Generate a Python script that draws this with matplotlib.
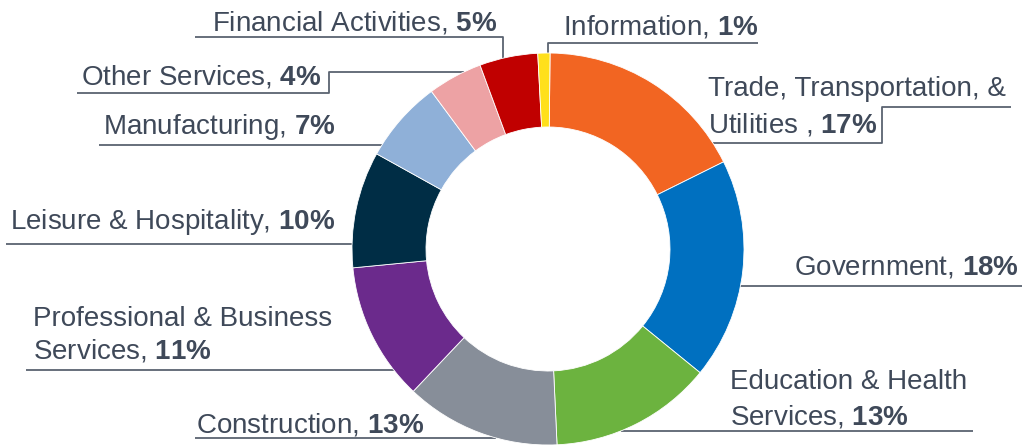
import matplotlib
matplotlib.use("Agg")
import matplotlib.pyplot as plt
import numpy as np

plt.rcParams['font.family'] = ['Liberation Sans', 'DejaVu Sans']
plt.rcParams['mathtext.fontset'] = 'custom'
plt.rcParams['mathtext.rm'] = 'Liberation Sans'
plt.rcParams['mathtext.it'] = 'Liberation Sans:italic'
plt.rcParams['mathtext.bf'] = 'Liberation Sans:bold'

# ---------------- data ----------------
sectors = ["Trade, Transportation, & Utilities", "Government",
           "Education & Health Services", "Construction",
           "Professional & Business Services", "Leisure & Hospitality",
           "Manufacturing", "Other Services", "Financial Activities",
           "Information"]
shares = [17.5, 18.2, 13.4, 12.8, 11.4, 9.6, 6.8, 4.5, 4.8, 1.0]
label_pct = ["17%", "18%", "13%", "13%", "11%", "10%", "7%", "4%", "5%", "1%"]
label_lines = [
    ["Trade, Transportation, &", "Utilities , {p}"],
    ["Government, {p}"],
    ["Education & Health", "Services, {p}"],
    ["Construction, {p}"],
    ["Professional & Business", "Services, {p}"],
    ["Leisure & Hospitality, {p}"],
    ["Manufacturing, {p}"],
    ["Other Services, {p}"],
    ["Financial Activities, {p}"],
    ["Information, {p}"],
]
colors = ["#F26522", "#0070C0", "#6CB33F", "#878E99", "#6B2A8C",
          "#002D45", "#8FB0D8", "#EDA2A4", "#C00000", "#FFE01B"]

# ---------------- layout (image pixel coords, y from top) ----------------
W, H = 1022, 446
CX, CY, R, R_IN = 548, 249, 196, 122
TXT = "#3F4959"
LINE = "#5A6371"
FS = 20

# per label: list of (x, baseline, ha) for each text line, leader path, end spec
layout = [
    dict(lines=[(708, 96, 'left'), (708, 132, 'left')],
         path=[(1011, 107), (882, 107), (882, 143)], end=('h', +1)),
    dict(lines=[(1019, 274, 'right')],
         path=[(1022, 286)], end=('h', +1)),
    dict(lines=[(730, 389, 'left'), (730, 424, 'left')],
         path=[(973, 431)], end=('h', +1)),
    dict(lines=[(196, 433, 'left')],
         path=[(195, 438)], end=('h', -1)),
    dict(lines=[(33, 326, 'left'), (33, 359, 'left')],
         path=[(26, 370)], end=('h', -1)),
    dict(lines=[(10, 229, 'left')],
         path=[(6, 244)], end=('h', -1)),
    dict(lines=[(103, 134, 'left')],
         path=[(99, 145)], end=('h', -1)),
    dict(lines=[(81, 84, 'left')],
         path=[(77, 93), (329, 93), (329, 72)], end=('h', -1)),
    dict(lines=[(212, 31, 'left')],
         path=[(195, 37), (503, 37)], end=('v', 0)),
    dict(lines=[(563, 35, 'left')],
         path=[(758, 43), (548, 43)], end=('v', 0)),
]

fig = plt.figure(figsize=(W / 100, H / 100), dpi=100)
ax = fig.add_axes([0, 0, 1, 1])

ax.pie(shares, colors=colors, startangle=89.4, counterclock=False,
       radius=R, center=(CX, H - CY),
       wedgeprops=dict(width=R - R_IN, edgecolor='white', linewidth=0.6))

ax.set_xlim(0, W)
ax.set_ylim(0, H)
ax.set_aspect('equal')
ax.axis('off')

for i, spec in enumerate(layout):
    pct = r"$\mathbf{" + label_pct[i].replace('%', r'\%') + "}$"
    for (x, b, ha), s in zip(spec['lines'], label_lines[i]):
        ax.text(x, H - b, s.replace('{p}', pct), ha=ha, va='baseline',
                fontsize=FS, color=TXT)
    pts = list(spec['path'])
    kind, side = spec['end']
    lx, ly = pts[-1]
    if kind == 'h':
        ex = CX + side * np.sqrt(R ** 2 - (ly - CY) ** 2)
        pts.append((ex, ly))
    else:
        ey = CY - np.sqrt(R ** 2 - (lx - CX) ** 2)
        pts.append((lx, ey + 3))
    xs = [p[0] for p in pts]
    ys = [H - p[1] for p in pts]
    ax.plot(xs, ys, color=LINE, lw=1.3, solid_capstyle='butt', zorder=0)

fig.savefig("out.png", dpi=100)
